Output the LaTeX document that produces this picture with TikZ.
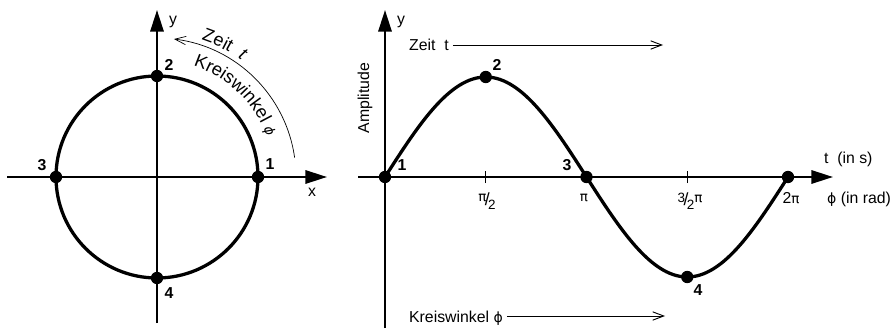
\documentclass[tikz,border=0pt]{standalone}
\usepackage{fontspec}
\setmainfont{Liberation Sans}
\newfontfamily\grk{DejaVu Sans}
\usetikzlibrary{arrows.meta,decorations.text}

% Schraegbruch fuer die Achsenbeschriftung
\newcommand{\schraeg}[2]{\raisebox{0.45ex}{\fontsize{11.5}{12}\selectfont#1}\kern-0.1em{\fontsize{15}{15}\selectfont/}\kern-0.1em\raisebox{-0.4ex}{\fontsize{11.5}{12}\selectfont#2}}
\newcommand{\kreisfont}{\fontsize{15.5}{17}\selectfont}

\tikzset{
  achse/.style={line width=1.9pt,-{Triangle[length=0.65cm,width=0.4cm]}},
  kurve/.style={line width=2.8pt},
  punkt/.style={circle,fill,inner sep=0pt,minimum size=0.37cm},
  nummer/.style={font=\fontsize{13.5}{16}\selectfont\bfseries},
  beschr/.style={font=\fontsize{13.5}{16}\selectfont},
  pfeil/.style={line width=0.8pt,-{Straight Barb[length=0.33cm,width=0.25cm]}},
}

\begin{document}
\begin{tikzpicture}[x=0.03cm,y=0.03cm]
        \useasboundingbox (0,0) rectangle (894,328);

        % Einheitskreis
        \coordinate (mk) at (157,151);
        \coordinate (xka) at (7,151);
        \coordinate (xke) at (327,151);
        \coordinate (yka) at (157,5);
        \coordinate (yke) at (157,318);
        \draw[achse] (xka) -- (xke);
        \draw[achse] (yka) -- (yke);
        \node[beschr] (xk) at (312,136) {x};
        \node[beschr] (yk) at (173,306) {y};
        \draw[kurve] (mk) circle[radius=101];

        \node[punkt] (k1) at (258,151) {};
        \node[punkt] (k2) at (157,252) {};
        \node[punkt] (k3) at (56,151) {};
        \node[punkt] (k4) at (157,50) {};
        \node[nummer] (k1l) at (270,164) {1};
        \node[nummer] (k2l) at (169,263) {2};
        \node[nummer] (k3l) at (42,163) {3};
        \node[nummer] (k4l) at (169,35) {4};

        % Drehsinn
        \draw[pfeil,line width=0.6pt] ([shift={(8:139)}]mk) arc[start angle=8,end angle=83,radius=139];
        \path[decorate,decoration={text along path,text align=center,
          text={|\kreisfont|Zeit{\ }{\ }|\kreisfont\itshape|t}}]
          ([shift={(76:144)}]mk) arc[start angle=76,end angle=50,radius=144];
        \path[decorate,decoration={text along path,text align=center,
          text={|\kreisfont|Kreiswinkel{\ }|\grk\fontsize{11.5}{12}\selectfont\itshape|ϕ}}]
          ([shift={(78:117)}]mk) arc[start angle=78,end angle=14,radius=117];

        % Sinuskurve
        \coordinate (ur) at (385,151);
        \coordinate (xsa) at (358,151);
        \coordinate (xse) at (833,151);
        \coordinate (ysa) at (385,0);
        \coordinate (yse) at (385,318);
        \draw[achse] (xsa) -- (xse);
        \draw[achse] (ysa) -- (yse);
        \node[beschr] (ys) at (401,306) {y};
        \node[beschr,rotate=90] (amp) at (365,230) {Amplitude};

        \draw[line width=0.8pt] (485.75,145) -- (485.75,157);
        \draw[line width=0.8pt] (687.25,145) -- (687.25,157);

        \draw[kurve] plot[domain=0:360,samples=120,smooth] ({385+1.11944*\x},{151+100*sin(\x)});

        \node[punkt] (s1) at (385,151) {};
        \node[punkt] (s2) at (485.75,251) {};
        \node[punkt] (s3) at (586.5,151) {};
        \node[punkt] (s4) at (687.25,51) {};
        \node[punkt] (s5) at (788,151) {};
        \node[nummer] (s1l) at (402,163) {1};
        \node[nummer] (s2l) at (497,263) {2};
        \node[nummer] (s3l) at (567,163) {3};
        \node[nummer] (s4l) at (698,38) {4};

        % Achsenwerte
        \node[beschr] (w1) at (487,127) {\schraeg{\grk π}{2}};
        \node[beschr] (w2) at (584,130) {\grk\fontsize{11.5}{12}\selectfont π};
        \node[beschr] (w3) at (690,127) {\schraeg{3}{2}\raisebox{0.45ex}{\grk\fontsize{11.5}{12}\selectfont π}};
        \node[beschr] (w4) at (791,130) {2{\grk\fontsize{11.5}{12}\selectfont π}};
        \node[beschr,anchor=west] (einh1) at (820,169) {t\ \ (in s)};
        \node[beschr,anchor=west] (einh2) at (823,129) {{\grk\fontsize{12}{12}\selectfont ϕ} (in rad)};

        % Richtungspfeile
        \node[beschr,anchor=west] (zeit) at (405,283) {Zeit\ \ t};
        \coordinate (zeitende) at (663,283);
        \draw[pfeil] (zeit.east |- zeitende) -- (zeitende);
        \node[beschr,anchor=base west] (kw) at (405,6) {Kreiswinkel {\grk\fontsize{12}{12}\selectfont ϕ}};
        \coordinate (kwende) at (665,12);
        \draw[pfeil] (kw.east |- kwende) -- (kwende);
\end{tikzpicture}
\end{document}
